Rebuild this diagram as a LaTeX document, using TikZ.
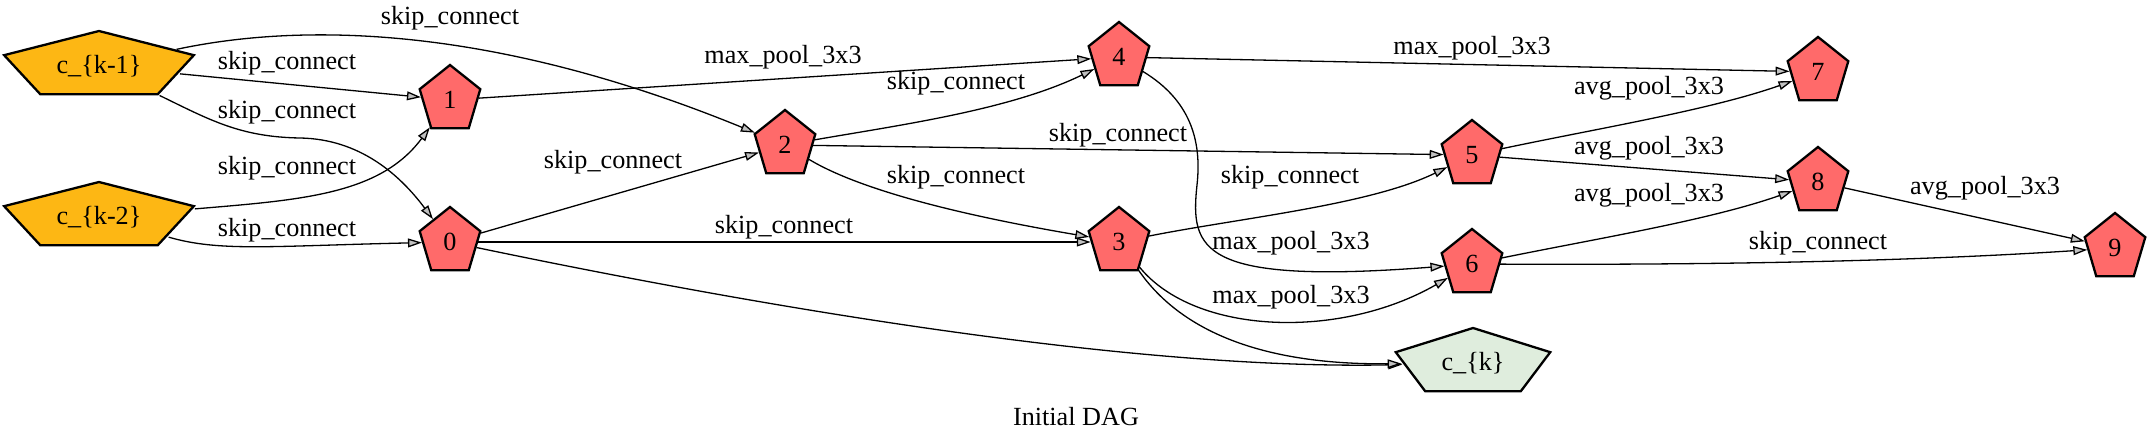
\documentclass[tikz,border=0pt]{standalone}
\usepackage{fontspec}
\setmainfont{Liberation Serif}
\usetikzlibrary{arrows.meta,shapes.geometric}
\definecolor{InClr}{RGB}{253,183,20}
\definecolor{OpClr}{RGB}{255,106,106}
\definecolor{OutClr}{RGB}{223,237,221}
\definecolor{TipClr}{RGB}{192,192,192}
\newcommand{\optxt}[1]{\scalebox{1.099}[1]{#1}}
\newcommand{\intxt}[1]{\scalebox{0.351}[1]{#1}}
\newcommand{\outtxt}[1]{\scalebox{0.431}[1]{#1}}

\tikzset{
  pent/.style={regular polygon,regular polygon sides=5,minimum size=35pt,inner sep=0pt,
    draw=black,line width=1.15pt,transform shape},
  opnode/.style={pent,xscale=0.91,fill=OpClr},
  innode/.style={pent,xscale=2.85,fill=InClr},
  outnode/.style={pent,xscale=2.32,fill=OutClr},
  conn/.style={line width=0.65pt,-{Triangle[length=7pt,width=4.4pt,fill=TipClr]}},
  lbl/.style={inner sep=0pt}
}

\begin{document}
\begin{tikzpicture}[x=0.5pt,y=0.5pt,font=\fontsize{13.1}{15}\selectfont]
\useasboundingbox (0,0) rectangle (2151,-444);

\node[innode] (ck1) at (99,-66) {\intxt{c\_\{k-1\}}};
\node[innode] (ck2) at (99,-217) {\intxt{c\_\{k-2\}}};
\node[opnode] (n0) at (450,-242) {\optxt{0}};
\node[opnode] (n1) at (450,-100) {\optxt{1}};
\node[opnode] (n2) at (785,-145) {\optxt{2}};
\node[opnode] (n3) at (1119,-242) {\optxt{3}};
\node[opnode] (n4) at (1119,-57) {\optxt{4}};
\node[opnode] (n5) at (1472,-155) {\optxt{5}};
\node[opnode] (n6) at (1472,-264) {\optxt{6}};
\node[opnode] (n7) at (1818,-72) {\optxt{7}};
\node[opnode] (n8) at (1818,-182) {\optxt{8}};
\node[opnode] (n9) at (2115,-248) {\optxt{9}};
\node[outnode] (ck) at (1473,-363) {\outtxt{c\_\{k\}}};

\draw[conn] (ck1) -- (n1);
\draw[conn] (ck1) .. controls (290,-25) and (480,-20) .. (n2);
\draw[conn] (ck1) .. controls (210,-120) and (240,-137) .. (300,-138)
  .. controls (360,-139) and (400,-175) .. (n0);
\draw[conn] (ck2) .. controls (300,-200) and (380,-195) .. (n1);
\draw[conn] (ck2) .. controls (220,-252) and (270,-246) .. (n0);
\draw[conn] (n0) -- (n2);
\draw[conn] (n0) -- (n3);
\draw[conn] (n0) .. controls (800,-315) and (1150,-370) .. (ck);
\draw[conn] (n1) -- (n4);
\draw[conn] (n2) .. controls (900,-125) and (1010,-110) .. (n4);
\draw[conn] (n2) -- (n5);
\draw[conn] (n2) .. controls (860,-190) and (960,-215) .. (n3);
\draw[conn] (n3) .. controls (1240,-218) and (1370,-205) .. (n5);
\draw[conn] (n4) .. controls (1190,-100) and (1202,-140) .. (1197,-185)
  .. controls (1190,-250) and (1200,-285) .. (n6);
\draw[conn] (n3) .. controls (1195,-335) and (1340,-340) .. (n6);
\draw[conn] (n3) .. controls (1180,-330) and (1260,-365) .. (ck);
\draw[conn] (n4) -- (n7);
\draw[conn] (n5) .. controls (1600,-128) and (1710,-110) .. (n7);
\draw[conn] (n5) -- (n8);
\draw[conn] (n6) .. controls (1600,-238) and (1710,-220) .. (n8);
\draw[conn] (n6) .. controls (1700,-265) and (1900,-262) .. (n9);
\draw[conn] (n8) -- (n9);

\node[lbl] (l-ck1-n1) at (287,-63) {skip\_connect};
\node[lbl] (l-ck1-n2) at (450,-18) {skip\_connect};
\node[lbl] (l-ck1-n0) at (287,-112) {skip\_connect};
\node[lbl] (l-ck2-n1) at (287,-168) {skip\_connect};
\node[lbl] (l-ck2-n0) at (287,-230) {skip\_connect};
\node[lbl] (l-n0-n2) at (613,-162) {skip\_connect};
\node[lbl] (l-n0-n3) at (784,-227) {skip\_connect};
\node[lbl] (l-n1-n4) at (783,-57) {max\_pool\_3x3};
\node[lbl] (l-n2-n4) at (956,-83) {skip\_connect};
\node[lbl] (l-n2-n5) at (1118,-135) {skip\_connect};
\node[lbl] (l-n2-n3) at (956,-177) {skip\_connect};
\node[lbl] (l-n3-n5) at (1290,-177) {skip\_connect};
\node[lbl] (l-n4-n6) at (1291,-243) {max\_pool\_3x3};
\node[lbl] (l-n3-n6) at (1291,-297) {max\_pool\_3x3};
\node[lbl] (l-n4-n7) at (1472,-48) {max\_pool\_3x3};
\node[lbl] (l-n5-n7) at (1649,-88) {avg\_pool\_3x3};
\node[lbl] (l-n5-n8) at (1649,-148) {avg\_pool\_3x3};
\node[lbl] (l-n6-n8) at (1649,-195) {avg\_pool\_3x3};
\node[lbl] (l-n6-n9) at (1818,-243) {skip\_connect};
\node[lbl] (l-n8-n9) at (1985,-188) {avg\_pool\_3x3};

\node[lbl] (title) at (1076,-417) {Initial DAG};
\end{tikzpicture}
\end{document}
